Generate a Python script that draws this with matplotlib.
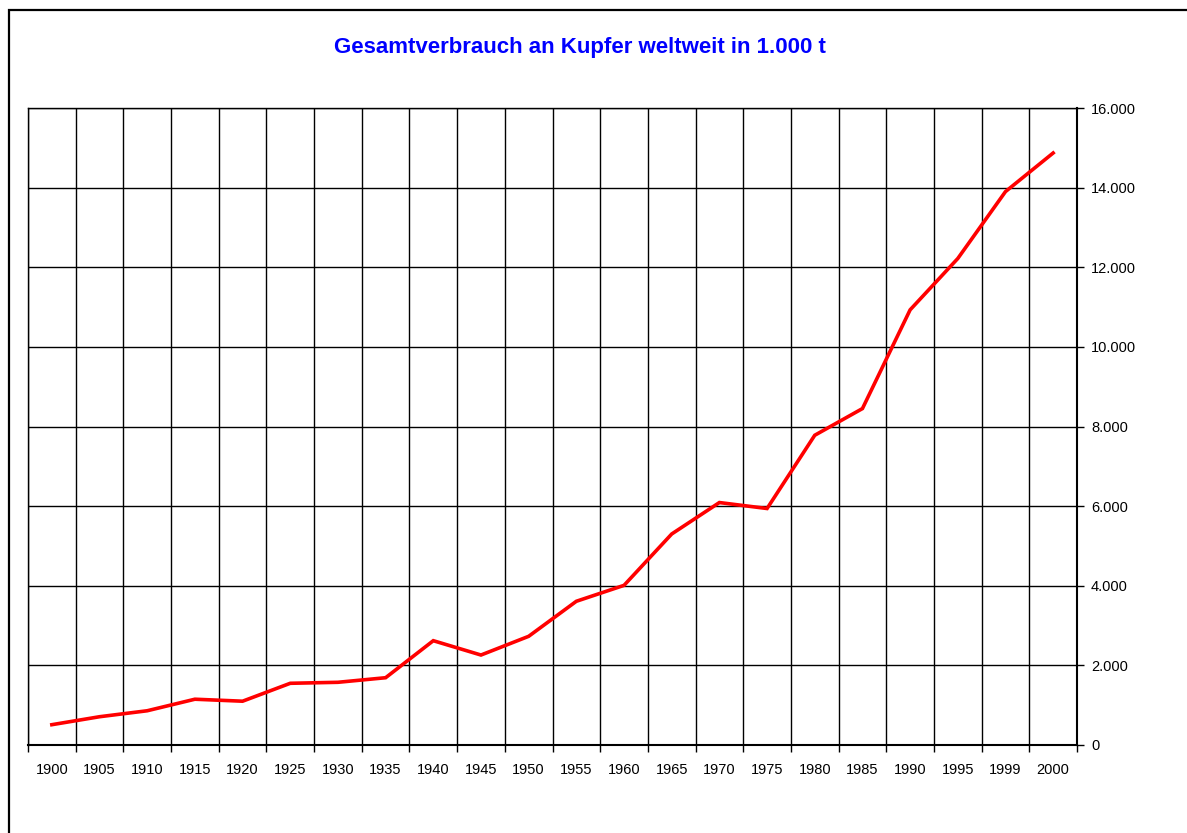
import matplotlib.pyplot as plt
from matplotlib.patches import Rectangle
from matplotlib.ticker import FixedLocator, FuncFormatter

plt.rcParams['font.family'] = ['Liberation Sans', 'DejaVu Sans']

# Jahre (Kategorien) und Verbrauch in 1.000 t
years = ['1900', '1905', '1910', '1915', '1920', '1925', '1930', '1935',
         '1940', '1945', '1950', '1955', '1960', '1965', '1970', '1975',
         '1980', '1985', '1990', '1995', '1999', '2000']
consumption = [510, 710, 860, 1150, 1100, 1550, 1575, 1690,
               2620, 2260, 2730, 3610, 4010, 5300, 6090, 5940,
               7780, 8450, 10930, 12220, 13900, 14870]
yticks = [0, 2000, 4000, 6000, 8000, 10000, 12000, 14000, 16000]

fig = plt.figure(figsize=(11.87, 8.33), dpi=100)
ax = fig.add_axes([28 / 1187, 1 - 745 / 833, 1049 / 1187, 637 / 833])

pos = list(range(len(years)))
ax.plot(pos, consumption, color='#ff0000', linewidth=2.6, solid_joinstyle='miter', zorder=3)

ax.set_xlim(-0.5, len(years) - 0.5)
ax.set_ylim(0, 16000)

# Gitter an den Kategoriegrenzen, Beschriftung in der Mitte
ax.xaxis.set_major_locator(FixedLocator([p - 0.5 for p in pos] + [len(years) - 0.5]))
ax.xaxis.set_major_formatter(FuncFormatter(lambda v, p: ''))
ax.xaxis.set_minor_locator(FixedLocator(pos))
ax.set_xticklabels(years, minor=True)
ax.tick_params(axis='x', which='major', direction='out', length=5, width=1, color='black')
ax.tick_params(axis='x', which='minor', length=0, pad=13, labelsize=10.5)

ax.yaxis.tick_right()
ax.set_yticks(yticks)
ax.yaxis.set_major_formatter(FuncFormatter(lambda v, p: f'{int(v):,}'.replace(',', '.')))
ax.tick_params(axis='y', which='major', direction='out', length=5, width=1, pad=5, labelsize=10.5)

ax.grid(True, which='major', color='black', linewidth=1.0)
ax.set_axisbelow(True)
for side in ['top', 'left', 'right', 'bottom']:
    ax.spines[side].set_linewidth(1.0)
    ax.spines[side].set_color('black')
ax.spines['bottom'].set_linewidth(1.5)
ax.spines['right'].set_linewidth(1.5)

fig.text(580 / 1187, 1 - 48 / 833, 'Gesamtverbrauch an Kupfer weltweit in 1.000 t',
         color='#0000ff', fontsize=16, fontweight='bold', ha='center', va='center')

# Rahmen um das Diagramm (rechts und unten abgeschnitten)
fig.patches.append(Rectangle((9 / 1187, -0.05), 1.1, 1 - 10 / 833 + 0.05,
                             transform=fig.transFigure, fill=False,
                             edgecolor='black', linewidth=1.6))

fig.savefig('out.png', dpi=100)
